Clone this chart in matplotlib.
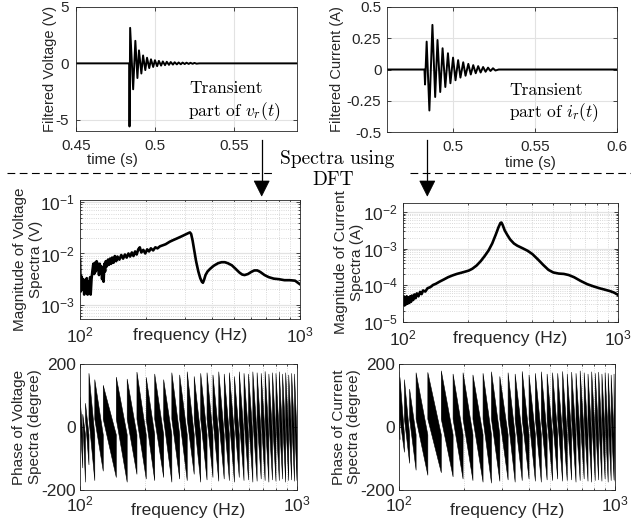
"""
transient v_r / i_r and their DFT spectra (magnitude + phase)
"""

import numpy as np
import matplotlib
matplotlib.use('Agg')
import matplotlib.pyplot as plt
from matplotlib.ticker import FuncFormatter, NullFormatter, LogLocator
from matplotlib.lines import Line2D
from matplotlib.patches import Polygon
from matplotlib.collections import PolyCollection

plt.rcParams['font.family'] = 'Liberation Sans'
plt.rcParams['mathtext.fontset'] = 'cm'
plt.rcParams['axes.unicode_minus'] = False

## DATA

# filtered voltage transient: extremes (s, V)
v_time = [0.45, 0.4837, 0.4839, 0.4843, 0.4862, 0.4876, 0.4889, 0.4899, 0.4914, 0.4925,
          0.4939, 0.4950, 0.4964, 0.4975, 0.4989, 0.5000, 0.5014, 0.5025, 0.5039, 0.5050,
          0.5064, 0.5075, 0.5089, 0.5100, 0.5114, 0.5125, 0.5139, 0.5150, 0.5164, 0.5175,
          0.5189, 0.5200, 0.5214, 0.5225, 0.5239, 0.5250, 0.5264, 0.5280, 0.59]
v_amp = [0, 0, -5.6, 3.15, -2.3, 2.0, -1.3, 1.15, -0.9, 0.7,
         -0.6, 0.5, -0.42, 0.36, -0.32, 0.28, -0.25, 0.22, -0.2, 0.17,
         -0.16, 0.14, -0.13, 0.12, -0.11, 0.1, -0.09, 0.08, -0.08, 0.07,
         -0.06, 0.06, -0.05, 0.05, -0.04, 0.04, -0.03, 0, 0]

# filtered current transient: extremes (s, A)
i_time = [0.46, 0.4828, 0.48315, 0.48414, 0.4858, 0.48765, 0.48932, 0.49074, 0.4924, 0.49383,
          0.4955, 0.4971, 0.4986, 0.5002, 0.5017, 0.5033, 0.5047, 0.5064, 0.5078, 0.5095,
          0.5110, 0.5125, 0.5140, 0.5155, 0.5170, 0.5185, 0.5200, 0.5215, 0.5230, 0.5245,
          0.5260, 0.5280, 0.60]
i_amp = [0, 0, -0.12, 0.223, -0.328, 0.357, -0.22, 0.236, -0.18, 0.17,
         -0.14, 0.13, -0.11, 0.095, -0.086, 0.075, -0.065, 0.058, -0.05, 0.045,
         -0.04, 0.035, -0.03, 0.027, -0.024, 0.02, -0.018, 0.015, -0.012, 0.01,
         -0.008, 0, 0]

# voltage spectrum magnitude (Hz, log10 V)
mag_v_freq = [100, 100.8, 101.8, 102.8, 103.5, 104.5, 105.5, 106.5, 107.3, 108.3,
              109.3, 110.3, 111.2, 111.8, 112.8, 113.8, 115, 116, 117, 118,
              119, 120, 121, 122, 123, 124, 125, 126, 127, 128,
              129, 130, 131, 132.5, 134, 135.5, 137, 138.5, 140, 142,
              144, 146, 148, 151, 154, 157, 160, 163, 166, 169,
              172, 175, 178, 181, 184, 187, 190, 194, 198, 202,
              206, 210, 215, 220, 225, 231, 238, 245, 256, 265,
              275, 285, 295, 305, 312, 316, 320, 325, 330, 337,
              345, 352, 358, 362, 366, 372, 380, 390, 405, 424,
              440, 455, 470, 490, 510, 530, 546, 560, 580, 600,
              620, 640, 660, 690, 720, 760, 800, 850, 900, 950, 1000]
mag_v_exp = [-2.13, -2.74, -2.45, -2.7, -2.5, -2.8, -2.55, -2.72, -2.48, -2.8,
             -2.55, -2.7, -2.46, -2.8, -2.5, -2.35, -2.2, -2.4, -2.18, -2.35,
             -2.15, -2.3, -2.2, -2.42, -2.2, -2.35, -2.25, -2.5, -2.3, -2.55,
             -2.2, -2.35, -2.15, -2.25, -2.12, -2.22, -2.1, -2.2, -2.08, -2.18,
             -2.05, -2.15, -2.06, -2.12, -2.03, -2.1, -2.02, -2.08, -2.0, -2.06,
             -1.98, -2.05, -1.96, -2.02, -1.92, -1.88, -1.98, -1.93, -2.0, -1.92,
             -1.96, -1.9, -1.94, -1.88, -1.9, -1.86, -1.84, -1.82, -1.77, -1.74,
             -1.71, -1.68, -1.65, -1.62, -1.6, -1.59, -1.62, -1.75, -1.92, -2.15,
             -2.35, -2.48, -2.55, -2.57, -2.52, -2.42, -2.35, -2.3, -2.24, -2.19,
             -2.17, -2.17, -2.19, -2.23, -2.3, -2.37, -2.41, -2.42, -2.4, -2.36,
             -2.33, -2.33, -2.36, -2.42, -2.46, -2.49, -2.5, -2.52, -2.52, -2.53, -2.6]

# current spectrum magnitude (Hz, log10 A)
mag_i_freq = [100, 100.8, 101.6, 102.4, 103.2, 104, 105, 106, 107, 108,
              109, 110, 111.5, 113, 114.5, 116, 118, 120, 122, 124,
              127, 130, 134, 138, 142, 148, 155, 162, 170, 178,
              186, 194, 202, 210, 220, 230, 240, 250, 260, 270,
              278, 284, 287, 291, 297, 305, 315, 328, 340, 360,
              380, 400, 425, 450, 475, 500, 530, 560, 590, 625,
              670, 720, 770, 820, 870, 920, 960, 1000]
mag_i_exp = [-4.43, -4.3, -4.55, -4.35, -4.52, -4.3, -4.5, -4.33, -4.48, -4.3,
             -4.45, -4.28, -4.4, -4.25, -4.35, -4.22, -4.3, -4.18, -4.24, -4.14,
             -4.17, -4.08, -4.05, -3.99, -3.96, -3.9, -3.84, -3.78, -3.73, -3.69,
             -3.66, -3.63, -3.6, -3.55, -3.46, -3.34, -3.2, -3.05, -2.86, -2.62,
             -2.42, -2.3, -2.29, -2.36, -2.5, -2.62, -2.75, -2.86, -2.92, -2.99,
             -3.06, -3.15, -3.3, -3.45, -3.58, -3.65, -3.68, -3.69, -3.72, -3.78,
             -3.88, -3.97, -4.03, -4.08, -4.12, -4.16, -4.2, -4.26]

# phase teeth: start frequency of each tooth, its top and bottom (degree)
ph_v_freq = [100, 103, 106, 110, 117, 128, 147, 165, 183, 202,
             221, 243, 265, 288, 312, 336, 360, 385, 410, 436,
             462, 488, 515, 542, 570, 598, 626, 655, 684, 713,
             742, 771, 800, 829, 858, 887, 916, 945, 974, 1000]
ph_v_top = [95, 40, 75, 170, 150, 132, 158, 152, 174, 157,
            168, 150, 172, 165, 175, 160, 170, 172, 165, 175,
            168, 172, 160, 175, 170, 168, 175, 172, 170, 176,
            168, 172, 170, 175, 168, 172, 165, 170, 168]
ph_v_bot = [-130, -175, -120, -170, -140, -160, -175, -150, -165, -170,
            -160, -175, -165, -170, -150, -175, -168, -160, -172, -165,
            -170, -175, -160, -170, -168, -175, -172, -165, -170, -175,
            -168, -172, -170, -165, -175, -170, -168, -172, -170]

ph_i_freq = [100, 101, 106, 112, 120, 136, 157, 178, 198, 220,
             245, 268, 293, 320, 345, 372, 400, 428, 456, 485,
             514, 543, 572, 601, 630, 660, 690, 720, 750, 780,
             810, 840, 870, 900, 930, 960, 990, 1000]
ph_i_top = [175, 157, 150, 120, 172, 173, 178, 168, 172, 165,
            170, 175, 160, 172, 168, 176, 165, 170, 175, 168,
            172, 170, 176, 168, 174, 170, 178, 172, 168, 175,
            170, 174, 168, 172, 170, 165, 168]
ph_i_bot = [-40, -80, -115, -137, -153, -145, -158, -165, -170, -175,
            -178, -172, -168, -175, -170, -165, -172, -175, -168, -170,
            -165, -172, -170, -168, -175, -170, -165, -172, -175, -170,
            -168, -172, -165, -175, -170, -168, -172]


## FIGURE

W, H = 631, 525
fig = plt.figure(figsize=(W / 100, H / 100), dpi=100)
ink = '#262626'


def add_ax(x0, y0, x1, y1):
    # box given in picture pixels
    return fig.add_axes([x0 / W, 1 - y1 / H, (x1 - x0) / W, (y1 - y0) / H])


def style(ax, size, pad):
    for s in ax.spines.values():
        s.set_color(ink)
        s.set_linewidth(0.6)
    ax.tick_params(which='both', direction='in', top=True, right=True,
                   colors=ink, labelsize=size, width=0.6, pad=pad)
    ax.tick_params(which='major', length=3)
    ax.tick_params(which='minor', length=1.6)
    ax.set_axisbelow(True)


def log_fmt(v, pos):
    return r'$\mathregular{10^{%d}}$' % round(np.log10(v))


def log_axis(axis):
    axis.set_major_locator(LogLocator(base=10, numticks=20))
    axis.set_minor_locator(LogLocator(base=10, subs=np.arange(2, 10), numticks=20))
    axis.set_major_formatter(FuncFormatter(log_fmt))
    axis.set_minor_formatter(NullFormatter())


def phase_polys(freq, top, bot, band=25):
    polys = []
    for j in range(len(top)):
        polys.append([(freq[j], top[j]), (freq[j + 1], -band),
                      (freq[j + 1], bot[j]), (freq[j], band)])
    return polys


serif = dict(family='cmr10', color='k')

# --- top left: voltage transient
ax1 = add_ax(76, 7, 297, 131)
style(ax1, 11, 6)
ax1.plot(v_time, v_amp, color='k', lw=1.4)
ax1.set_xlim(0.45, 0.59)
ax1.set_ylim(-6, 5)
ax1.set_xticks([0.45, 0.5, 0.55])
ax1.set_xticklabels(['0.45', '0.5', '0.55'])
ax1.set_yticks([-5, 0, 5])
ax1.set_yticklabels(['-5', '0', '5'])
ax1.tick_params(axis='y', pad=5)
ax1.grid(True, color='#e2e2e2', lw=0.8)
ax1.set_xlabel('time (s)', fontsize=11, color=ink, va='center')
ax1.xaxis.set_label_coords(0.167, -0.234)
ax1.set_ylabel('Filtered Voltage (V)', fontsize=10.5, color=ink, va='center')
ax1.yaxis.set_label_coords(-0.118, 0.5)
ax1.text(0.511, 0.347, 'Transient', transform=ax1.transAxes, va='center', fontsize=12.5, **serif)
ax1.text(0.507, 0.153, 'part of $v_r(t)$', transform=ax1.transAxes, va='center', fontsize=12.5, **serif)

# --- top right: current transient
ax2 = add_ax(387, 7, 617, 132)
style(ax2, 11, 6)
ax2.plot(i_time, i_amp, color='k', lw=1.4)
ax2.set_xlim(0.46, 0.6)
ax2.set_ylim(-0.5, 0.5)
ax2.set_xticks([0.5, 0.55, 0.6])
ax2.set_xticklabels(['0.5', '0.55', '0.6'])
ax2.set_yticks([-0.5, -0.25, 0, 0.25, 0.5])
ax2.set_yticklabels(['-0.5', '-0.25', '0', '0.25', '0.5'])
ax2.tick_params(axis='y', pad=4)
ax2.grid(True, color='#e2e2e2', lw=0.8)
ax2.set_xlabel('time (s)', fontsize=11, color=ink, va='center')
ax2.xaxis.set_label_coords(0.622, -0.248)
ax2.set_ylabel('Filtered Current (A)', fontsize=10.5, color=ink, va='center')
ax2.yaxis.set_label_coords(-0.219, 0.5)
ax2.text(0.530, 0.336, 'Transient', transform=ax2.transAxes, va='center', fontsize=12.5, **serif)
ax2.text(0.530, 0.152, 'part of $i_r(t)$', transform=ax2.transAxes, va='center', fontsize=12.5, **serif)

# --- middle: magnitude spectra
ax3 = add_ax(80, 200, 300, 319)
ax4 = add_ax(403, 203, 618, 322)
mag_sets = [(ax3, mag_v_freq, mag_v_exp, (5.3e-4, 0.11), 'Magnitude of Voltage\nSpectra (V)', -0.236),
            (ax4, mag_i_freq, mag_i_exp, (1e-5, 1.75e-2), 'Magnitude of Current\nSpectra (A)', -0.25)]
for ax, fr, ex, ylim, lab, lx in mag_sets:
    style(ax, 12.5, 3)
    ax.plot(fr, 10 ** np.array(ex), color='k', lw=1.9)
    ax.set_xscale('log')
    ax.set_yscale('log')
    ax.set_xlim(100, 1000)
    ax.set_ylim(*ylim)
    log_axis(ax.xaxis)
    log_axis(ax.yaxis)
    ax.tick_params(axis='x', pad=4.5)
    ax.tick_params(axis='y', pad=3.5)
    ax.grid(True, which='major', color='#e2e2e2', lw=0.9)
    ax.grid(True, which='minor', color='#cccccc', lw=0.6, ls=':')
    ax.set_xlabel('frequency (Hz)', fontsize=12.5, color=ink, va='center')
    ax.xaxis.set_label_coords(0.5, -0.14)
    ax.set_ylabel(lab, fontsize=11, color=ink, va='center', linespacing=1.15)
    ax.yaxis.set_label_coords(lx, 0.5)

# --- bottom: phase spectra
ax5 = add_ax(80, 364, 297, 490)
ax6 = add_ax(399, 364, 615, 490)
ph_sets = [(ax5, ph_v_freq, ph_v_top, ph_v_bot, 'Phase of Voltage\nSpectra (degree)', -0.244),
           (ax6, ph_i_freq, ph_i_top, ph_i_bot, 'Phase of Current\nSpectra (degree)', -0.243)]
for ax, fr, top, bot, lab, lx in ph_sets:
    style(ax, 12.5, 3)
    ax.set_xscale('log')
    ax.set_xlim(100, 1000)
    log_axis(ax.xaxis)
    ax.add_collection(PolyCollection(phase_polys(fr, top, bot), facecolor='k',
                                     edgecolor='k', linewidths=0.4))
    ax.set_ylim(-200, 200)
    ax.set_yticks([-200, 0, 200])
    ax.set_yticklabels(['-200', '0', '200'])
    ax.grid(True, which='minor', axis='x', color='#cccccc', lw=0.6, ls=':')
    ax.set_xlabel('frequency (Hz)', fontsize=12.5, color=ink, va='center')
    ax.xaxis.set_label_coords(0.5, -0.159)
    ax.set_ylabel(lab, fontsize=11, color=ink, va='center', linespacing=1.15)
    ax.yaxis.set_label_coords(lx, 0.5)

# --- separators, arrows and the DFT note (picture pixels)
def fx(x):
    return x / W


def fy(y):
    return 1 - y / H


for x0, x1 in [(7, 275), (410, 631)]:
    fig.add_artist(Line2D([fx(x0), fx(x1)], [fy(173.3), fy(173.3)], color='k',
                          lw=0.8, ls=(0, (7, 4)), transform=fig.transFigure))

for xa in [261.7, 427.3]:
    fig.add_artist(Line2D([fx(xa), fx(xa)], [fy(140), fy(184)], color='k', lw=0.9,
                          transform=fig.transFigure))
    fig.add_artist(Polygon([(fx(xa - 7.5), fy(181)), (fx(xa + 7.5), fy(181)), (fx(xa), fy(196))],
                           closed=True, facecolor='k', edgecolor='k', lw=0.5,
                           transform=fig.transFigure))

fig.text(fx(337), fy(159), 'Spectra using', ha='center', va='center', fontsize=14, **serif)
fig.text(fx(333), fy(180), 'DFT', ha='center', va='center', fontsize=14, **serif)

fig.savefig('out.png', dpi=100)
